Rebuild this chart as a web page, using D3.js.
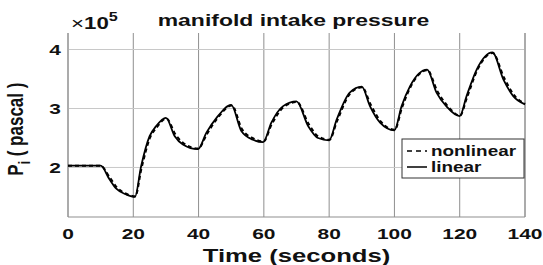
<!DOCTYPE html>
<html>
<head>
<meta charset="utf-8">
<script src="https://cdnjs.cloudflare.com/ajax/libs/d3/7.8.5/d3.min.js"></script>
<style>
body { margin: 0; background: #fff; }
text { font-family: "Liberation Sans", Arial, sans-serif; font-weight: bold; fill: #111; }
</style>
</head>
<body>
<script>
// time (s) and pressure (x 1e5 Pa)
var timeLinear = [0, 10, 12.7, 14.8, 17.9, 20.5, 22.4, 25, 27, 30, 32.7, 35.2, 39.8, 42.4, 45.5, 50, 53.1, 56.7, 59.8, 62.3, 65.9, 70, 73.6, 76.6, 80, 82.3, 86.3, 90, 92.5, 95.6, 100, 102.2, 104.8, 110, 112.9, 116, 120, 122.1, 125.2, 130, 133.4, 136.4, 140];
var pLinear = [2.03, 2.03, 1.80, 1.64, 1.54, 1.50, 2.02, 2.53, 2.70, 2.84, 2.53, 2.39, 2.31, 2.59, 2.84, 3.06, 2.62, 2.47, 2.43, 2.76, 3.04, 3.12, 2.70, 2.50, 2.46, 2.81, 3.27, 3.37, 3.04, 2.76, 2.63, 3.04, 3.38, 3.66, 3.27, 3.03, 2.87, 3.21, 3.66, 3.95, 3.49, 3.21, 3.07];

var timeNonlinear = [0, 10, 12.9, 15, 18, 20.6, 22.5, 25.1, 27.2, 30.2, 32.9, 35.4, 39.9, 42.5, 45.6, 50.2, 53.3, 56.9, 59.9, 62.4, 66, 70.1, 73.8, 76.8, 80.1, 82.4, 86.4, 90.1, 92.7, 95.8, 100.1, 102.3, 104.9, 110.1, 113.1, 116.2, 120.1, 122.2, 125.3, 130.1, 133.6, 136.6, 140];
var pNonlinear = [2.03, 2.03, 1.82, 1.66, 1.55, 1.51, 1.98, 2.50, 2.68, 2.83, 2.56, 2.41, 2.32, 2.56, 2.82, 3.05, 2.65, 2.49, 2.44, 2.73, 3.02, 3.11, 2.73, 2.52, 2.47, 2.78, 3.25, 3.36, 3.07, 2.78, 2.64, 3.01, 3.36, 3.65, 3.30, 3.05, 2.88, 3.18, 3.64, 3.94, 3.52, 3.23, 3.08];

var xTicks = [0, 20, 40, 60, 80, 100, 120, 140];
var yTicks = [2, 3, 4];

var margin = {top: 33, right: 18, bottom: 48, left: 68},
    width = 543 - margin.left - margin.right,
    height = 265 - margin.top - margin.bottom;

// the figure is stretched sideways, so text is too
var SX = 1.35;

var svg = d3.select("body").append("svg")
    .attr("width", 543)
    .attr("height", 265)
    .append("g")
    .attr("transform", "translate(" + margin.left + "," + margin.top + ")");

var xScale = d3.scaleLinear().domain([0, 140]).range([0, width]);
var yScale = d3.scaleLinear().domain([1.16, 4.28]).range([height, 0]);

function wideText(parent, x, y, anchor, size) {
  return parent.append("text")
    .attr("transform", "translate(" + x + "," + y + ") scale(" + SX + ",1)")
    .style("text-anchor", anchor)
    .style("font-size", size + "px");
}

// grid
svg.append("g").selectAll("line")
    .data(xTicks)
    .enter().append("line")
    .attr("x1", function(d) { return xScale(d); })
    .attr("x2", function(d) { return xScale(d); })
    .attr("y1", 0).attr("y2", height)
    .style("stroke", "#8f8f8f")
    .style("stroke-width", 1);

svg.append("g").selectAll("line")
    .data(yTicks)
    .enter().append("line")
    .attr("x1", 0).attr("x2", width)
    .attr("y1", function(d) { return yScale(d); })
    .attr("y2", function(d) { return yScale(d); })
    .style("stroke", "#c8c8c8")
    .style("stroke-width", 1);

// axes frame (no top edge)
svg.append("path")
    .attr("d", "M0,0V" + height + "H" + width + "V0")
    .style("fill", "none")
    .style("stroke", "#8f8f8f")
    .style("stroke-width", 1);

// tick labels
svg.append("g").selectAll("text")
    .data(xTicks)
    .enter().each(function(d) {
      wideText(d3.select(this), xScale(d), height + 22, "middle", 15.5).text(d3.format("d")(d));
    });

svg.append("g").selectAll("text")
    .data(yTicks)
    .enter().each(function(d) {
      wideText(d3.select(this), -7, yScale(d) + 5.5, "end", 15.5).text(d3.format("d")(d));
    });

// lines
var line = d3.line()
    .curve(d3.curveMonotoneX)
    .x(function(d) { return xScale(d[0]); })
    .y(function(d) { return yScale(d[1]); });

var linData = timeLinear.map(function(t, i) { return [t, pLinear[i]]; });
var nonData = timeNonlinear.map(function(t, i) { return [t, pNonlinear[i]]; });

svg.append("path")
    .datum(linData)
    .attr("d", line)
    .style("fill", "none")
    .style("stroke", "#000")
    .style("stroke-width", 1.8);

svg.append("path")
    .datum(nonData)
    .attr("d", line)
    .style("fill", "none")
    .style("stroke", "#000")
    .style("stroke-width", 2)
    .style("stroke-dasharray", "4,3");

// title and exponent
wideText(svg, 225.5, -7, "middle", 17).text("manifold intake pressure");

var expo = wideText(svg, 3, -4, "start", 16.5);
expo.append("tspan").style("font-weight", "normal").text("\u00d7");
expo.append("tspan").text("10");
expo.append("tspan").attr("dy", -8).style("font-size", "12px").text("5");

// axis labels
wideText(svg, width / 2, height + 45, "middle", 19).text("Time (seconds)");

var ylab = svg.append("text")
    .attr("transform", "translate(" + (-45) + "," + yScale(2.65) + ") rotate(-90) scale(1," + SX + ")")
    .style("text-anchor", "middle")
    .style("font-size", "17px");
ylab.append("tspan").text("P");
ylab.append("tspan").attr("dy", 5).style("font-size", "12px").text("i");
ylab.append("tspan").attr("dy", -5).text(" ( pascal )");

// legend
var legend = svg.append("g")
    .attr("transform", "translate(" + (width - 123) + "," + 106 + ")");
legend.append("rect")
    .attr("width", 122).attr("height", 39)
    .style("fill", "#fff")
    .style("stroke", "#333")
    .style("stroke-width", 1);
var legItems = [{name: "nonlinear", dash: "5,4"}, {name: "linear", dash: null}];
legItems.forEach(function(d, i) {
  var y = 12 + i * 16;
  legend.append("line")
    .attr("x1", 5).attr("x2", 25)
    .attr("y1", y).attr("y2", y)
    .style("stroke", "#000")
    .style("stroke-width", 1.5)
    .style("stroke-dasharray", d.dash);
  wideText(legend, 29, y + 5, "start", 14).text(d.name);
});
</script>
</body>
</html>
